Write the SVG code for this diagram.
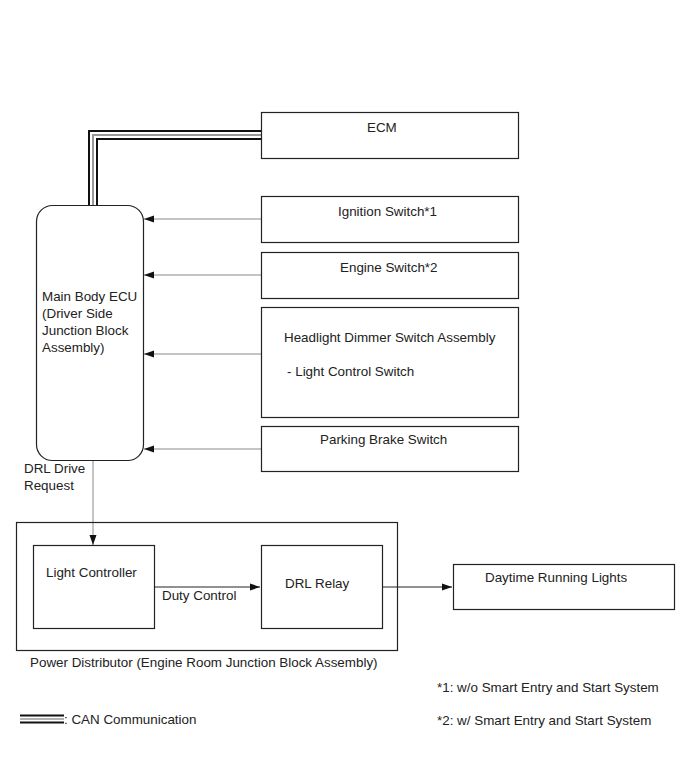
<svg xmlns="http://www.w3.org/2000/svg" width="691" height="757" viewBox="0 0 691 757">
<style>
.box{fill:#fff;stroke:#222;stroke-width:1.2}
text{font-family:"Liberation Sans",Arial,sans-serif;font-size:13.4px;fill:#222}
.g{stroke:#888;stroke-width:1;fill:none}
.k{stroke:#222;stroke-width:1;fill:none}
</style>
<defs>
<marker id="ag" markerWidth="10" markerHeight="8" refX="10" refY="4" orient="auto" markerUnits="userSpaceOnUse"><path d="M0,0.5 L10,4 L0,7.5 z" fill="#111"/></marker>
</defs>
<rect width="691" height="757" fill="#fff"/>
<g id="connectors">
<path d="M93,207 V135 H262" fill="none" stroke="#111" stroke-width="10"/>
<path d="M93,207 V135 H262" fill="none" stroke="#fff" stroke-width="6"/>
<path d="M93,207 V135 H262" fill="none" stroke="#999" stroke-width="2"/>
<line x1="261" y1="219" x2="144" y2="219" class="g" marker-end="url(#ag)"/>
<line x1="261" y1="275" x2="144" y2="275" class="g" marker-end="url(#ag)"/>
<line x1="261" y1="354" x2="144" y2="354" class="g" marker-end="url(#ag)"/>
<line x1="261" y1="449" x2="144" y2="449" class="g" marker-end="url(#ag)"/>
<line x1="93" y1="460" x2="93" y2="545" class="g" marker-end="url(#ag)"/>
<line x1="154" y1="587" x2="260" y2="587" class="k" marker-end="url(#ag)"/>
<line x1="382" y1="587" x2="452" y2="587" class="k" marker-end="url(#ag)"/>
</g>
<g id="power-distributor">
<rect x="16.5" y="522.5" width="381" height="128" fill="none" stroke="#222" stroke-width="1.2"/>
<text x="30" y="667">Power Distributor (Engine Room Junction Block Assembly)</text>
</g>
<g id="main-body-ecu">
<rect x="36.5" y="205.5" width="107" height="255" rx="16" class="box"/>
<text x="42" y="301">Main Body ECU</text>
<text x="42" y="318">(Driver Side</text>
<text x="42" y="335">Junction Block</text>
<text x="42" y="352">Assembly)</text>
</g>
<g id="ecm">
<rect x="261.5" y="112.5" width="257" height="46" class="box"/>
<text x="367" y="132">ECM</text>
</g>
<g id="ignition-switch">
<rect x="261.5" y="196.5" width="257" height="46" class="box"/>
<text x="338" y="216">Ignition Switch*1</text>
</g>
<g id="engine-switch">
<rect x="261.5" y="252.5" width="257" height="46" class="box"/>
<text x="340" y="272">Engine Switch*2</text>
</g>
<g id="headlight-dimmer">
<rect x="261.5" y="307.5" width="257" height="110" class="box"/>
<text x="284" y="342">Headlight Dimmer Switch Assembly</text>
<text x="287" y="376">- Light Control Switch</text>
</g>
<g id="parking-brake">
<rect x="261.5" y="426.5" width="257" height="45" class="box"/>
<text x="320" y="444">Parking Brake Switch</text>
</g>
<g id="drl-label">
<text x="24" y="473">DRL Drive</text>
<text x="24" y="490">Request</text>
</g>
<g id="light-controller">
<rect x="33.5" y="545.5" width="121" height="83" class="box"/>
<text x="46" y="577">Light Controller</text>
</g>
<text x="162" y="600">Duty Control</text>
<g id="drl-relay">
<rect x="261.5" y="545.5" width="121" height="83" class="box"/>
<text x="285" y="588">DRL Relay</text>
</g>
<g id="daytime-running-lights">
<rect x="453.5" y="564.5" width="221" height="45" class="box"/>
<text x="485" y="582">Daytime Running Lights</text>
</g>
<g id="legend">
<line x1="20" y1="715.5" x2="64" y2="715.5" stroke="#111" stroke-width="2"/>
<line x1="20" y1="719" x2="64" y2="719" stroke="#999" stroke-width="1.5"/>
<line x1="20" y1="722.5" x2="64" y2="722.5" stroke="#111" stroke-width="2"/>
<text x="64" y="724">: CAN Communication</text>
<text x="437" y="692">*1: w/o Smart Entry and Start System</text>
<text x="437" y="725">*2: w/ Smart Entry and Start System</text>
</g>
</svg>
